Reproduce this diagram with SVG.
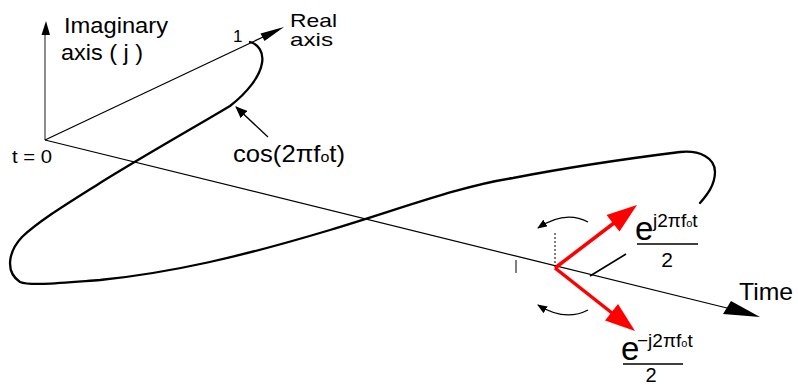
<svg xmlns="http://www.w3.org/2000/svg" width="798" height="385" viewBox="0 0 798 385">
<style>
text{font-family:"Liberation Sans",Arial,sans-serif;fill:#000}
.ax{stroke:#000;stroke-width:1.2;fill:none}
.thin{stroke:#000;stroke-width:1.3;fill:none}
.red{stroke:#ff0000;stroke-width:3.5;fill:none}
.redh{fill:#ff0000;stroke:none}
.blk{fill:#000;stroke:none}
</style>
<defs>
<marker id="ah" viewBox="0 0 12 10" refX="11" refY="5" markerWidth="12" markerHeight="10" markerUnits="userSpaceOnUse" orient="auto">
<path d="M0,0 L12,5 L0,10 z" fill="#000"/>
</marker>
<marker id="ahs" viewBox="0 0 10 8" refX="9" refY="4" markerWidth="10" markerHeight="8" markerUnits="userSpaceOnUse" orient="auto">
<path d="M0,0 L10,4 L0,8 z" fill="#000"/>
</marker>
</defs>

<g id="imag-axis">
<line x1="45" y1="140" x2="45" y2="34" stroke="#808080" stroke-width="1.8"/>
<polygon class="blk" points="46,21 41.5,35 50,35"/>
<text x="64" y="33" font-size="22" textLength="104" lengthAdjust="spacingAndGlyphs">Imaginary</text>
<text x="61" y="60" font-size="22" textLength="82" lengthAdjust="spacingAndGlyphs">axis ( j )</text>
</g>

<g id="real-axis">
<line class="ax" x1="45" y1="140" x2="263" y2="37"/>
<polygon class="blk" points="284,27 264.5,41 260.5,33.5"/>
<text x="233" y="42" font-size="17">1</text>
<text x="290" y="27" font-size="18.5" textLength="47" lengthAdjust="spacingAndGlyphs">Real</text>
<text x="290" y="46" font-size="18.5" textLength="43" lengthAdjust="spacingAndGlyphs">axis</text>
</g>

<g id="time-axis">
<line class="ax" x1="45" y1="140" x2="727" y2="308"/>
<polygon class="blk" points="760,317 731,301 723,314"/>
<text x="12" y="163" font-size="18" textLength="40" lengthAdjust="spacingAndGlyphs">t = 0</text>
<text x="739" y="300" font-size="24" textLength="54" lengthAdjust="spacingAndGlyphs">Time</text>
</g>

<g id="cos-curve">
<path d="M250,42 C258,44 264,52 262,63 C260,76 248,92 230,106 C200,124 140,158 100,183 C70,202 40,220 22,237 C8,252 5,272 20,282 C30,286 60,283 100,280 C170,273 240,257 330,230 C400,209 460,186 513,178 C580,165 640,157 680,152 C700,150 715,158 715,172 C715,185 707,195 700,203" fill="none" stroke="#000" stroke-width="2.3" stroke-linecap="round" stroke-linejoin="round"/>
<text x="233" y="162" font-size="24" textLength="112" lengthAdjust="spacingAndGlyphs">cos(2πf<tspan font-size="15">o</tspan>t)</text>
</g>

<g id="phasor-pos">
<line class="red" x1="555" y1="268" x2="614" y2="223"/>
<polygon class="redh" points="637,205 619.5,231.5 606.5,215"/>
<text x="635" y="240" font-size="33">e</text>
<text x="653" y="227" font-size="19">j2πf<tspan font-size="11">o</tspan>t</text>
<line x1="637" y1="244" x2="698" y2="244" stroke="#000" stroke-width="1.5"/>
<text x="667" y="267" font-size="21" text-anchor="middle">2</text>
</g>

<g id="phasor-neg">
<line class="red" x1="555" y1="268" x2="612" y2="313"/>
<polygon class="redh" points="635,331 605,320.5 618,304"/>
<text x="621" y="360" font-size="33">e</text>
<text x="637" y="347" font-size="19">−j2πf<tspan font-size="11">o</tspan>t</text>
<line x1="623" y1="364" x2="683" y2="364" stroke="#000" stroke-width="1.5"/>
<text x="651" y="382" font-size="20" text-anchor="middle">2</text>
</g>

<g id="connectors">
<line class="thin" x1="268" y1="137" x2="236" y2="107" marker-end="url(#ah)"/>
<path class="thin" d="M588,222 Q565,210 538,228" marker-end="url(#ahs)"/>
<path class="thin" d="M588,310 Q565,322 538,305" marker-end="url(#ahs)"/>
<line x1="555" y1="233" x2="555" y2="266" stroke="#000" stroke-width="1" stroke-dasharray="2,2"/>
<line x1="516" y1="260" x2="516" y2="273" stroke="#000" stroke-width="1"/>
<line x1="590" y1="276" x2="626" y2="254" stroke="#000" stroke-width="1.6"/>
</g>
</svg>
